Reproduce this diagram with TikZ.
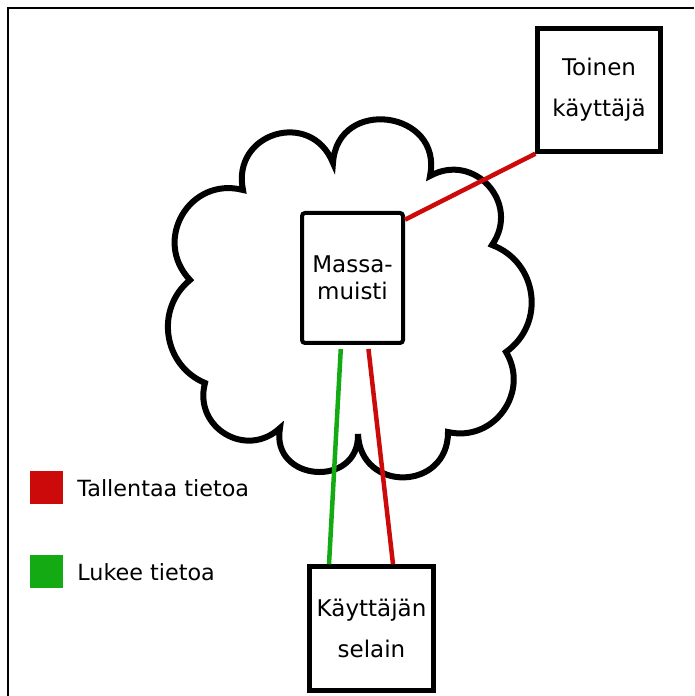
\documentclass[tikz,border=0pt]{standalone}
\usepackage{fontspec}
\setmainfont{DejaVu Sans}
\usepackage{tikz}
\usetikzlibrary{positioning}
\definecolor{tallred}{RGB}{204,10,10}
\definecolor{readgreen}{RGB}{20,170,20}
\begin{document}
\begin{tikzpicture}[x=1pt, y=1pt, every node/.style={font=\fontsize{22.3}{41}\selectfont},
  box/.style={rectangle, draw, line width=4.5pt, align=center, inner sep=0pt,
    font=\fontsize{23}{41}\selectfont},
  link/.style={line width=4.5pt},
  key/.style={rectangle, minimum size=33pt, inner sep=0pt}]
  \useasboundingbox (0,0) rectangle (694,696);
  % frame
  \draw[line width=2.5pt] (8,0) -- (8,688) -- (694,688);
  % cloud
  \draw[line width=6pt, line join=miter]
    (243,506) to[bend left=85, looseness=1.6] (333,533)
    to[bend left=94, looseness=1.75] (430,520)
    to[bend left=77, looseness=1.4] (492,451)
    to[bend left=62, looseness=1.16] (506,344)
    to[bend left=67, looseness=1.22] (448,264)
    to[bend left=89, looseness=1.68] (358,262)
    to[bend left=96, looseness=1.8] (280,268)
    to[bend left=74, looseness=1.35] (205,313)
    to[bend left=59, looseness=1.12] (190,416)
    to[bend left=74, looseness=1.35] (243,506) -- cycle;
  % boxes
  \node[box, minimum width=123pt, minimum height=123pt] (toinen) at (599,606) {Toinen\\käyttäjä};
  \node[box, line width=4pt, rounded corners=3pt, minimum width=101pt, minimum height=130pt,
    font=\fontsize{23}{27}\selectfont] (massa) at (352.5,418) {Massa-\\muisti};
  \node[box, minimum width=124pt, minimum height=124pt] (selain) at (371.5,67.5) {Käyttäjän\\selain};
  % legend
  \node[key, fill=tallred] (savekey) at (46.5,208) {};
  \node[right=14pt of savekey, inner sep=0pt] (savetext) {Tallentaa tietoa};
  \node[key, fill=readgreen] (readkey) at (46.5,124) {};
  \node[right=14pt of readkey, inner sep=0pt] (readtext) {Lukee tietoa};
  % links
  \draw[link, tallred] (massa.48) -- (toinen.south west);
  \draw[link, readgreen, shorten <=4pt] ([xshift=-11.5pt]massa.south) -- ([xshift=-42.5pt]selain.north);
  \draw[link, tallred, shorten <=4pt] ([xshift=15.5pt]massa.south) -- ([xshift=21.5pt]selain.north);
\end{tikzpicture}
\end{document}
